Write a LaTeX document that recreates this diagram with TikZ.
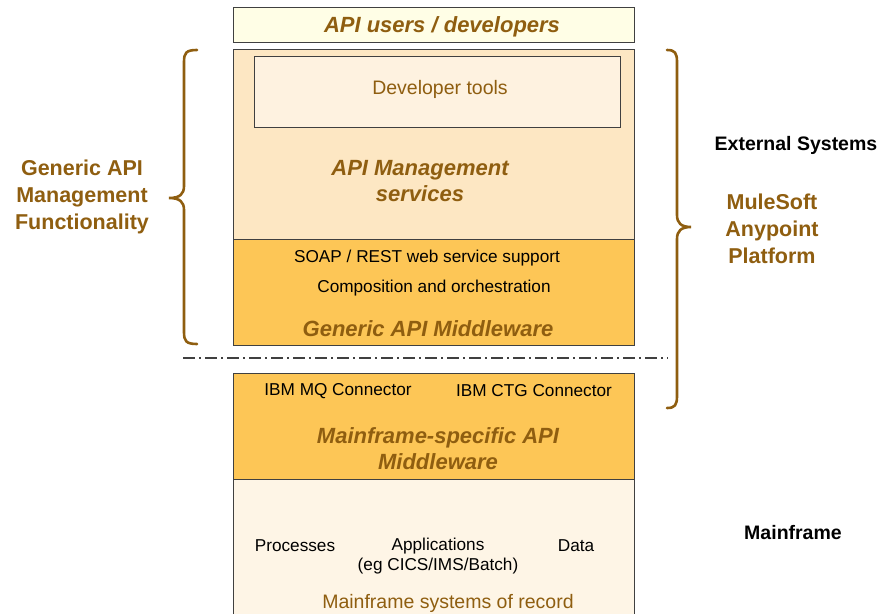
\documentclass[tikz,border=0pt]{standalone}
\usepackage{fontspec}
\setmainfont{Liberation Sans}
\definecolor{brn}{HTML}{8F5E10}
\definecolor{cream}{HTML}{FFFEE6}
\definecolor{peach}{HTML}{FDE7C3}
\definecolor{peachl}{HTML}{FEF2E0}
\definecolor{gold}{HTML}{FDC656}
\definecolor{mfbg}{HTML}{FEF5E6}
\definecolor{edge}{HTML}{404040}
\tikzset{
  box/.style={draw=edge, line width=1pt, inner sep=0pt, minimum width=401pt},
  ttl/.style={text=brn, font=\fontsize{22}{26}\selectfont\bfseries\itshape, align=center, inner sep=0pt},
  side/.style={text=brn, font=\fontsize{21.5}{27}\selectfont\bfseries, align=center, inner sep=0pt},
  blk/.style={text=black, font=\fontsize{17.2}{20}\selectfont, align=center, inner sep=0pt},
  hdr/.style={text=black, font=\fontsize{19.5}{23}\selectfont\bfseries, inner sep=0pt},
  reg/.style={text=brn, font=\fontsize{19.5}{23}\selectfont, inner sep=0pt},
  brace/.style={draw=brn, line width=2.6pt, line cap=round},
}
\begin{document}
\begin{tikzpicture}[x=1pt,y=-1pt]
\useasboundingbox (0,0) rectangle (880,613);
\clip (0,0) rectangle (880,613);
% boxes
\node[box, fill=cream, minimum height=35pt] (users) at (433.5,24.5) {};
\node[box, fill=peach, minimum height=190pt] (mgmt) at (433.5,144) {};
\node[box, fill=peachl, minimum width=366pt, minimum height=71pt] (devtools) at (437,91.5) {};
\node[box, fill=gold, minimum height=106pt] (gmid) at (433.5,292) {};
\node[box, fill=gold, minimum height=106pt] (mfmid) at (433.5,426) {};
\node[box, fill=mfbg, minimum height=150pt] (mfsys) at (433.5,554) {};
% texts
\node[ttl] (t1) at (442,27) {API users / developers};
\node[reg] (t2) at (440,89) {Developer tools};
\node[ttl] (t3) at (420,181) {API Management\\services};
\node[blk] (t4) at (427,258) {SOAP / REST web service support};
\node[blk] (t5) at (434,288) {Composition and orchestration};
\node[ttl] (t6) at (428,329) {Generic API Middleware};
\node[blk] (t7) at (338,391) {IBM MQ Connector};
\node[blk] (t8) at (534,391) {IBM CTG Connector};
\node[ttl] (t9) at (438,449) {Mainframe-specific API\\Middleware};
\node[blk] (t10) at (295,546) {Processes};
\node[blk] (t11) at (438,556) {Applications\\(eg CICS/IMS/Batch)};
\node[blk] (t12) at (576,546) {Data};
\node[reg] (t13) at (448,603) {Mainframe systems of record};
\node[side] (t14) at (82,197) {Generic API\\Management\\Functionality};
\node[hdr] (t15) at (796,145) {External Systems};
\node[side] (t16) at (772,229) {MuleSoft\\Anypoint\\Platform};
\node[hdr] (t17) at (793,533) {Mainframe};
% dash-dot separator
\coordinate (sepL) at (183,358);
\coordinate (sepR) at (668,358);
\draw[edge, line width=1.4pt, dash pattern=on 12pt off 4pt on 2pt off 4pt] (sepL) -- (sepR);
% braces
\coordinate (lb) at (197,50);
\coordinate (lt) at (169,198);
\coordinate (le) at (197,344);
\draw[brace] (lb) .. controls (186,50) and (184,53) .. (184,62) -- (184,186)
  .. controls (184,194) and (180,198) .. (lt)
  .. controls (180,198) and (184,202) .. (184,210) -- (184,332)
  .. controls (184,341) and (186,344) .. (le);
\coordinate (rb) at (667,50);
\coordinate (rt) at (691,227);
\coordinate (re) at (667,408);
\draw[brace] (rb) .. controls (675,50) and (677,53) .. (677,62) -- (677,215)
  .. controls (677,223) and (681,227) .. (rt)
  .. controls (681,227) and (677,231) .. (677,239) -- (677,396)
  .. controls (677,405) and (675,408) .. (re);
\end{tikzpicture}
\end{document}
